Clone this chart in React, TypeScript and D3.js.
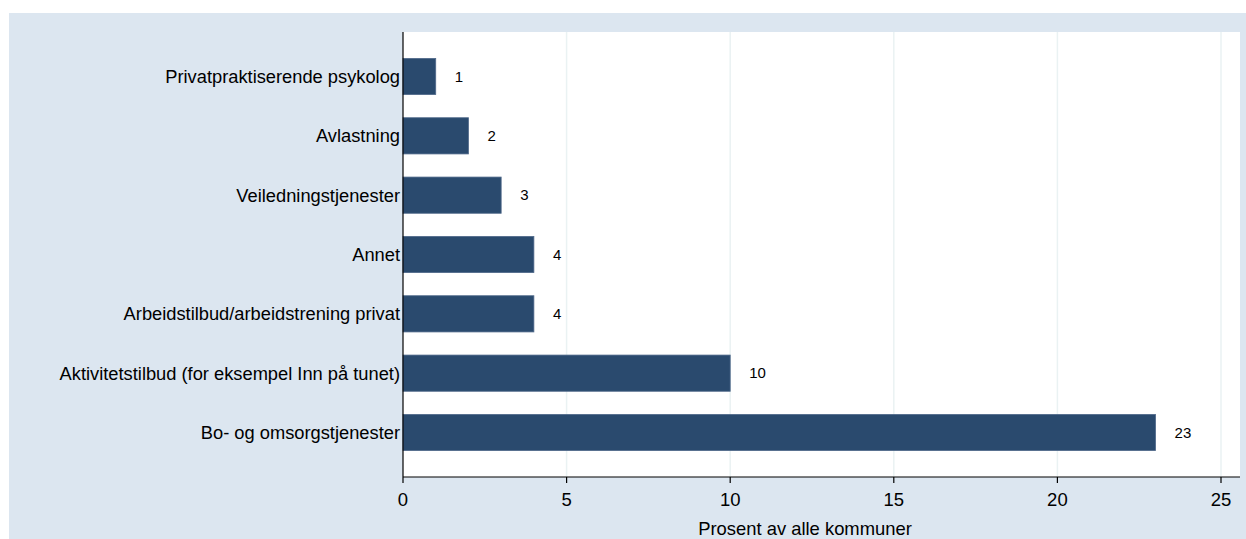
import React from "react";
import * as d3 from "d3";

const categories = [
  "Privatpraktiserende psykolog",
  "Avlastning",
  "Veiledningstjenester",
  "Annet",
  "Arbeidstilbud/arbeidstrening privat",
  "Aktivitetstilbud (for eksempel Inn på tunet)",
  "Bo- og omsorgstjenester",
];
const values = [1, 2, 3, 4, 4, 10, 23];
const xTicks = [0, 5, 10, 15, 20, 25];
const xTitle = "Prosent av alle kommuner";

const W = 1246;
const H = 539;
const FONT = "'Liberation Sans', Arial, Helvetica, sans-serif";

export default function App() {
  const plot = { left: 403, right: 1240, top: 32, bottom: 477 };
  const x = d3.scaleLinear().domain([0, 25]).range([plot.left, 1221]);
  const y = d3
    .scaleBand<string>()
    .domain(categories)
    .range([plot.top, plot.bottom])
    .paddingInner(0.39)
    .paddingOuter(0.445);
  const bh = y.bandwidth();

  return (
    <svg
      width={W}
      height={H}
      style={{ position: "absolute", left: 0, top: 0, display: "block" }}
    >
      <rect x={0} y={0} width={W} height={H} fill="#ffffff" />
      <rect x={9} y={13} width={W - 9} height={H - 13} fill="#dce6f0" />
      <rect
        x={plot.left}
        y={plot.top}
        width={plot.right - plot.left}
        height={plot.bottom - plot.top}
        fill="#ffffff"
      />
      {xTicks
        .filter((t) => t > 0)
        .map((t) => (
          <line
            key={"g" + t}
            x1={x(t)}
            x2={x(t)}
            y1={plot.top}
            y2={plot.bottom}
            stroke="#eaf2f3"
            strokeWidth={1.5}
          />
        ))}
      {categories.map((c, i) => (
        <g key={c}>
          <rect
            x={x(0)}
            y={y(c)!}
            width={x(values[i]) - x(0)}
            height={bh}
            fill="#2a4a6e"
            stroke="#50698a"
            strokeWidth={0.8}
          />
          <text
            x={x(values[i]) + 19}
            y={y(c)! + bh / 2}
            dy="0.35em"
            fontFamily={FONT}
            fontSize={15}
            fill="#000"
          >
            {values[i]}
          </text>
          <text
            x={plot.left - 3}
            y={y(c)! + bh / 2}
            dy="0.35em"
            textAnchor="end"
            fontFamily={FONT}
            fontSize={18.3}
            fill="#000"
          >
            {c}
          </text>
        </g>
      ))}
      <line
        x1={plot.left}
        x2={plot.left}
        y1={plot.top}
        y2={plot.bottom}
        stroke="#000"
        strokeWidth={1.2}
      />
      <line
        x1={plot.left}
        x2={plot.right}
        y1={plot.bottom}
        y2={plot.bottom}
        stroke="#000"
        strokeWidth={1.2}
      />
      {xTicks.map((t) => (
        <g key={"t" + t}>
          <line
            x1={x(t)}
            x2={x(t)}
            y1={plot.bottom}
            y2={plot.bottom + 6}
            stroke="#000"
            strokeWidth={1.2}
          />
          <text
            x={x(t)}
            y={506}
            textAnchor="middle"
            fontFamily={FONT}
            fontSize={18.5}
            fill="#000"
          >
            {t}
          </text>
        </g>
      ))}
      <text
        x={805}
        y={535}
        textAnchor="middle"
        fontFamily={FONT}
        fontSize={18.4}
        fill="#000"
      >
        {xTitle}
      </text>
    </svg>
  );
}
